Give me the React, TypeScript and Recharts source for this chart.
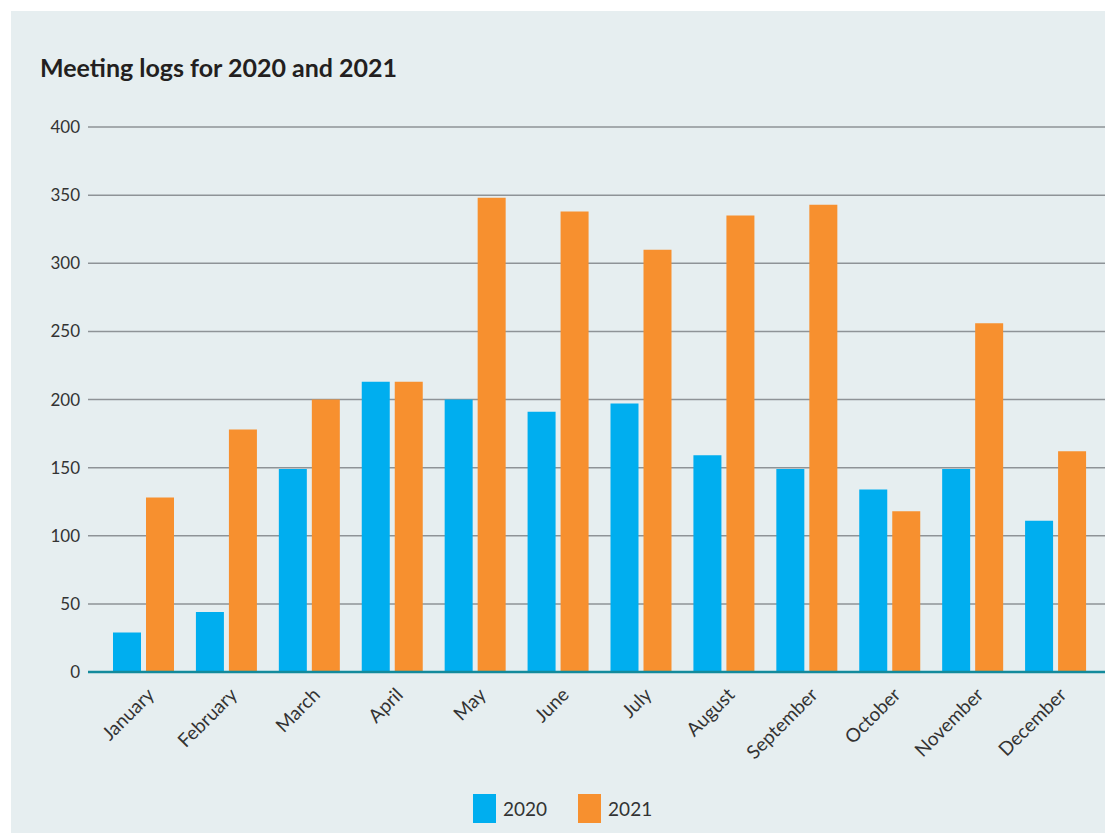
import { BarChart, Bar, XAxis, YAxis, CartesianGrid } from "recharts";

const months = [
  "January",
  "February",
  "March",
  "April",
  "May",
  "June",
  "July",
  "August",
  "September",
  "October",
  "November",
  "December",
];
const logs2020 = [29, 44, 149, 213, 200, 191, 197, 159, 149, 134, 149, 111];
const logs2021 = [128, 178, 200, 213, 348, 338, 310, 335, 343, 118, 256, 162];
const yTicks = [0, 50, 100, 150, 200, 250, 300, 350, 400];

const COLORS = { y2020: "#00AEEF", y2021: "#F7902F" };
const FONT = "Lato, 'Noto Sans', sans-serif";

const data = months.map((m, i) => ({
  month: m,
  y2020: logs2020[i],
  y2021: logs2021[i],
}));

function MonthTick(props: any) {
  const { x, y, payload } = props;
  return (
    <g transform={`translate(${x + 12},${y + 16})`}>
      <text
        textAnchor="end"
        transform="rotate(-45)"
        fill="#333"
        fontSize={19}
        fontFamily={FONT}
      >
        {payload.value}
      </text>
    </g>
  );
}

export default function App() {
  return (
    <div
      style={{
        position: "absolute",
        left: 11,
        top: 11,
        width: 1094,
        height: 822,
        background: "#E6EEF0",
        fontFamily: FONT,
      }}
    >
      <div
        style={{
          position: "absolute",
          left: 29,
          top: 41,
          fontSize: 25,
          fontWeight: 700,
          color: "#231F20",
        }}
      >
        Meeting logs for 2020 and 2021
      </div>

      <BarChart
        width={1094}
        height={822}
        data={data}
        margin={{ top: 116, right: 0, left: 0, bottom: 61 }}
        barSize={28}
        barGap={5}
      >
        <CartesianGrid vertical={false} stroke="#8E9397" strokeWidth={1.5} />
        <XAxis
          dataKey="month"
          height={100}
          padding={{ left: 14, right: 8 }}
          tickLine={false}
          axisLine={{ stroke: "#138A9C", strokeWidth: 2.5 }}
          tick={<MonthTick />}
          interval={0}
        />
        <YAxis
          width={77}
          domain={[0, 400]}
          ticks={yTicks}
          axisLine={false}
          tickLine={false}
          tickSize={0}
          tickMargin={8}
          tick={{ fill: "#333", fontSize: 17, fontFamily: FONT }}
        />
        <Bar dataKey="y2020" fill={COLORS.y2020} isAnimationActive={false} />
        <Bar dataKey="y2021" fill={COLORS.y2021} isAnimationActive={false} />
      </BarChart>

      {/* Legend */}
      <div
        style={{
          position: "absolute",
          top: 783,
          left: 462,
          display: "flex",
          gap: 31,
          fontSize: 19,
          color: "#333",
        }}
      >
        {[
          { key: "2020", color: COLORS.y2020 },
          { key: "2021", color: COLORS.y2021 },
        ].map((item) => (
          <div
            key={item.key}
            style={{ display: "flex", alignItems: "center", gap: 7 }}
          >
            <span
              style={{
                width: 23,
                height: 29,
                background: item.color,
                display: "inline-block",
              }}
            />
            <span>{item.key}</span>
          </div>
        ))}
      </div>
    </div>
  );
}
